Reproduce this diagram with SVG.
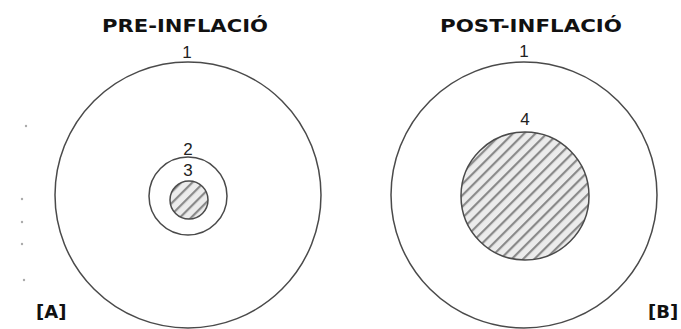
<svg xmlns="http://www.w3.org/2000/svg" width="681" height="329" viewBox="0 0 681 329">
  <style>
    .ring { fill: none; stroke: #4a4a4a; stroke-width: 1.5; }
    .hatched { fill: url(#hatch); stroke: #4a4a4a; stroke-width: 1.5; }
    .title { font-family: "DejaVu Sans", "Liberation Sans", sans-serif; font-weight: bold; font-size: 18px; fill: #111; text-anchor: middle; }
    .num { font-family: "Liberation Sans", Arial, sans-serif; font-size: 17px; fill: #222; text-anchor: middle; }
    .tag { font-family: "DejaVu Sans", "Liberation Sans", sans-serif; font-weight: bold; font-size: 18px; fill: #111; }
    .dot { fill: #aaa; }
  </style>
  <defs>
    <pattern id="hatch" patternUnits="userSpaceOnUse" width="8" height="8" patternTransform="rotate(-45)">
      <rect x="0" y="0" width="8" height="8" fill="#ececec"/>
      <rect x="0" y="0" width="8" height="2.2" fill="#8a8a8a"/>
    </pattern>
  </defs>
  <rect width="681" height="329" fill="#fff"/>

  <g id="dots">
    <circle class="dot" cx="26" cy="126" r="1.2"/>
    <circle class="dot" cx="22" cy="199" r="1.2"/>
    <circle class="dot" cx="22" cy="222" r="1.2"/>
    <circle class="dot" cx="22" cy="244" r="1.2"/>
    <circle class="dot" cx="24" cy="280" r="1.2"/>
  </g>

  <g id="panel-a">
    <text class="title" x="185" y="32" textLength="166" lengthAdjust="spacingAndGlyphs">PRE-INFLACIÓ</text>
    <g id="a-ring1">
      <circle class="ring" cx="188" cy="195" r="133"/>
      <text class="num" x="187" y="58">1</text>
    </g>
    <g id="a-ring2">
      <circle class="ring" cx="188" cy="196" r="39"/>
      <text class="num" x="188" y="155">2</text>
    </g>
    <g id="a-core3">
      <circle class="hatched" cx="189" cy="200" r="19"/>
      <text class="num" x="188" y="176">3</text>
    </g>
    <text class="tag" x="36" y="318">[A]</text>
  </g>

  <g id="panel-b">
    <text class="title" x="531" y="32" textLength="182" lengthAdjust="spacingAndGlyphs">POST-INFLACIÓ</text>
    <g id="b-ring1">
      <circle class="ring" cx="524" cy="195" r="133"/>
      <text class="num" x="524" y="57">1</text>
    </g>
    <g id="b-core4">
      <circle class="hatched" cx="525" cy="196" r="64"/>
      <text class="num" x="525" y="125">4</text>
    </g>
    <text class="tag" x="648" y="318">[B]</text>
  </g>

  <g id="connectors"></g>
</svg>
